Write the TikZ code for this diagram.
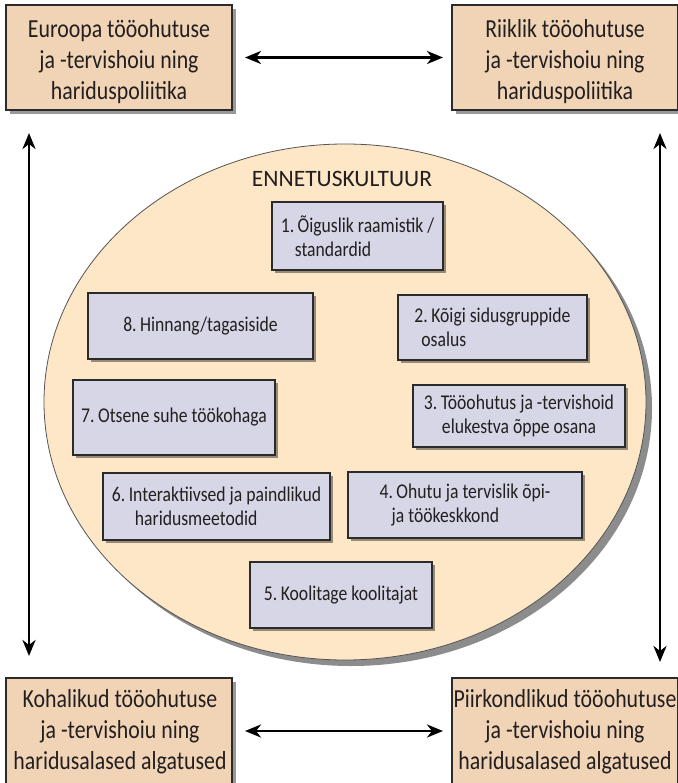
\documentclass[tikz,border=0pt]{standalone}
\usepackage{fontspec}
\setmainfont{Carlito}[FakeStretch=0.84]
\newfontfamily\titlefont{Carlito}
\usetikzlibrary{shadows,arrows.meta}
\definecolor{outerfill}{HTML}{F1D4B6}
\definecolor{innerfill}{HTML}{D6D6E6}
\definecolor{circfill}{HTML}{FDE7C6}
\definecolor{txt}{HTML}{231F20}
\definecolor{edge}{HTML}{2B2B2B}
\begin{document}
\begin{tikzpicture}[x=1pt,y=-1pt,
  outerbox/.style={draw=edge, line width=1.3pt, fill=outerfill, inner sep=0pt, outer sep=0pt,
    drop shadow={shadow xshift=4pt, shadow yshift=-4pt, opacity=0.4, fill=black}},
  outertext/.style={align=center, text=txt, inner sep=0pt, font=\fontsize{26}{31}\selectfont},
  innerbox/.style={draw=edge, line width=1.1pt, fill=innerfill, inner sep=0pt, outer sep=0pt,
    text=txt, font=\fontsize{21}{24}\selectfont,
    drop shadow={shadow xshift=3pt, shadow yshift=-3pt, opacity=0.4, fill=black}},
  arr/.style={line width=2.8pt, {Stealth[length=16pt,width=13pt,inset=5pt]}-{Stealth[length=16pt,width=13pt,inset=5pt]}}
]
\useasboundingbox (0,0) rectangle (677,783);
\fill[white] (0,0) rectangle (677,783);

% circle
\draw[edge!80, line width=0.8pt, fill=circfill,
  drop shadow={shadow xshift=6pt, shadow yshift=-6pt, opacity=0.45, fill=black}]
  (345,402) ellipse [x radius=301, y radius=258];
\node[text=txt, font=\titlefont\fontsize{23.5}{28}\selectfont] (title) at (342,179) {ENNETUSKULTUUR};

% outer boxes
\node[outerbox, minimum width=226pt, minimum height=105pt] (tl) at (119,57.5) {};
\node[outertext] (tlt) at (119,61.5) {Euroopa tööohutuse\\ja -tervishoiu ning\\hariduspoliitika};
\node[outerbox, minimum width=226pt, minimum height=105pt] (tr) at (565,57.5) {};
\node[outertext] (trt) at (565,61.5) {Riiklik tööohutuse\\ja -tervishoiu ning\\hariduspoliitika};
\node[outerbox, minimum width=226pt, minimum height=110pt] (bl) at (119,733) {};
\node[outertext] (blt) at (120,732) {Kohalikud tööohutuse\\ja -tervishoiu ning\\haridusalased algatused};
\node[outerbox, minimum width=226pt, minimum height=110pt] (br) at (565,733) {};
\node[outertext] (brt) at (565,732) {Piirkondlikud tööohutuse\\ja -tervishoiu ning\\haridusalased algatused};

% inner boxes
\node[innerbox, minimum width=171pt, minimum height=68pt, align=left] (b1) at (357.5,236)
  {1.\,Õiguslik raamistik /\\\hspace*{14pt}standardid};
\node[innerbox, minimum width=189pt, minimum height=65pt, align=left] (b2) at (492.5,327.5)
  {2.\,Kõigi sidusgruppide\\\hspace*{7pt}osalus};
\node[innerbox, minimum width=212pt, minimum height=62pt, align=center] (b3) at (519,416)
  {3.\,Tööohutus ja -tervishoid\\elukestva õppe osana};
\node[innerbox, minimum width=234pt, minimum height=66pt, align=left] (b4) at (465,505)
  {4.\,Ohutu ja tervislik õpi-\\\hspace*{12pt}ja töökeskkond};
\node[innerbox, minimum width=182pt, minimum height=66pt] (b5) at (341,595)
  {5.\,Koolitage koolitajat};
\node[innerbox, minimum width=227pt, minimum height=67pt, align=left] (b6) at (216.5,506.5)
  {6.\,Interaktiivsed ja paindlikud\\\hspace*{23pt}haridusmeetodid};
\node[innerbox, minimum width=202pt, minimum height=75pt] (b7) at (174,417.5)
  {7.\,Otsene suhe töökohaga};
\node[innerbox, minimum width=225pt, minimum height=66pt] (b8) at (200.5,326)
  {8.\,Hinnang/tagasiside};

% arrows
\draw[arr, shorten <=13pt, shorten >=9pt] (tl.east) -- (tr.west);
\draw[arr, shorten <=13pt, shorten >=9pt] (bl.east |- 0,731) -- (br.west |- 0,731);
\draw[arr] ([xshift=23pt,yshift=-23pt]tl.south west) -- ([xshift=23pt,yshift=22pt]bl.north west);
\draw[arr] ([xshift=208pt,yshift=-23pt]tr.south west) -- ([xshift=208pt,yshift=16pt]br.north west);
\end{tikzpicture}
\end{document}
